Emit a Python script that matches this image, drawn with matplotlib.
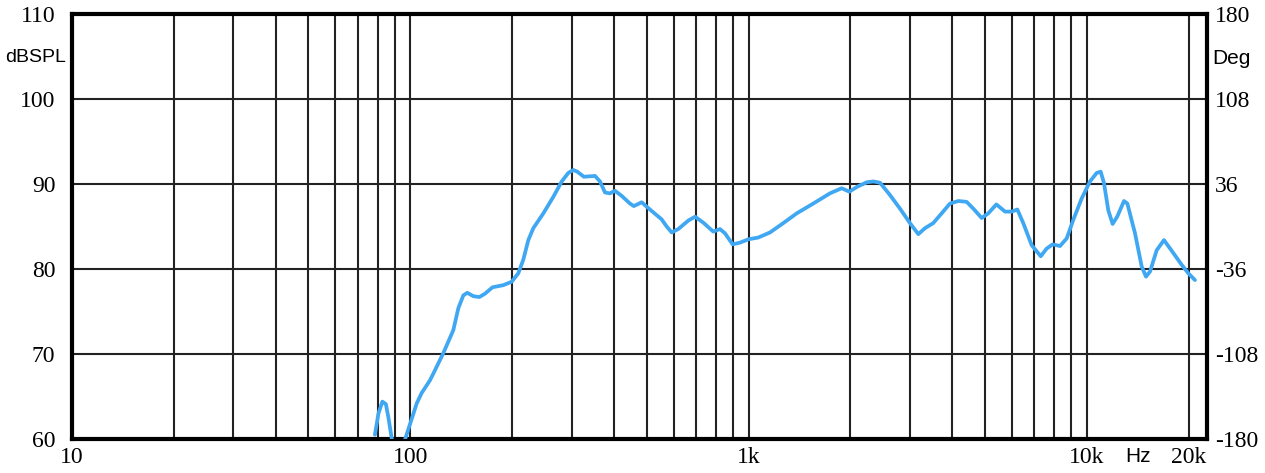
import matplotlib
matplotlib.use("Agg")
import matplotlib.pyplot as plt
from matplotlib.ticker import FixedLocator, NullFormatter, LogLocator

# Frequency response (Hz, dBSPL)
freq = [78.6, 80.5, 82.7, 84.7, 86.1, 88.1, 90.5, 93, 96.4, 100, 104.5, 108,
        114.3, 117, 125.2, 134, 138.7, 143.5, 147.4, 153.6, 160, 166.3, 175,
        188.4, 199.4, 208.6, 215.8, 223.3, 231, 247.4, 264.8, 280.3, 293.1,
        303.3, 311.6, 326, 338, 351.6, 363.7, 376.3, 389.3, 402.8, 421.6, 446,
        458, 483, 511, 553, 572.6, 592.6, 619.7, 663.6, 695, 734.8, 786.3, 823,
        851.5, 897, 943, 1000, 1068, 1157, 1266.5, 1388, 1553, 1740, 1884, 1985,
        2100, 2235, 2340, 2446, 2618, 2803, 2999, 3175, 3322, 3514, 3722, 3938,
        4169, 4412, 4617, 4887, 5113, 5400, 5730, 5996, 6229, 6486, 6868, 7304,
        7604, 7925, 8328, 8717, 9120, 9652, 10214, 10690, 10985, 11235, 11570,
        11914, 12290, 12875, 13170, 13877, 14520, 14952, 15370, 16080, 16900,
        17810, 19060, 19940, 20870]
spl = [60.5, 63.0, 64.4, 64.1, 62.6, 60.1, 57.5, 56.8, 59.9, 61.85, 64.2, 65.4,
       66.9, 67.7, 70.1, 72.8, 75.4, 76.9, 77.2, 76.8, 76.7, 77.1, 77.85,
       78.1, 78.5, 79.5, 81.1, 83.4, 84.8, 86.55, 88.5, 90.3, 91.3, 91.65,
       91.45, 90.85, 90.9, 90.95, 90.3, 89.0, 88.9, 89.2, 88.6, 87.7, 87.4,
       87.85, 87.0, 85.85, 85.0, 84.3, 84.7, 85.7, 86.15, 85.45, 84.4, 84.7,
       84.2, 82.9, 83.1, 83.5, 83.7, 84.3, 85.4, 86.55, 87.7, 88.9, 89.5, 89.1,
       89.7, 90.2, 90.3, 90.15, 88.7, 87.1, 85.4, 84.1, 84.8, 85.4, 86.55,
       87.7, 88.0, 87.9, 87.1, 86.0, 86.55, 87.6, 86.75, 86.75, 87.0, 85.4,
       82.8, 81.5, 82.4, 82.9, 82.7, 83.6, 85.8, 88.3, 90.3, 91.3, 91.45, 90.1,
       86.9, 85.3, 86.15, 88.0, 87.7, 84.2, 80.3, 79.1, 79.7, 82.2, 83.4,
       82.15, 80.5, 79.5, 78.7]

x_ticks = [10, 100, 1000, 10000, 20000]
x_labels = ["10", "100", "1k", "10k", "20k"]
y_ticks = [60, 70, 80, 90, 100, 110]
phase_ticks = [-180, -108, -36, 36, 108, 180]

serif = "Liberation Serif"
sans = "Liberation Sans"

fig = plt.figure(figsize=(12.65, 4.73), dpi=100)
ax = fig.add_axes([72 / 1265, 34 / 473, (1207 - 72) / 1265, (439 - 14) / 473])
ax.set_xscale("log")
ax.set_xlim(10, 22650)
ax.set_ylim(60, 110)

ax.xaxis.set_major_locator(FixedLocator(x_ticks))
ax.set_xticklabels(x_labels, fontfamily=serif, fontsize=17)
ax.xaxis.set_minor_locator(LogLocator(base=10, subs=range(2, 10), numticks=20))
ax.xaxis.set_minor_formatter(NullFormatter())
ax.set_yticks(y_ticks)
ax.set_yticklabels([str(v) for v in y_ticks], fontfamily=serif, fontsize=17)
ax.tick_params(axis="x", which="both", length=0, pad=6)
ax.tick_params(axis="y", which="both", length=0, pad=12)

ax.grid(True, which="major", axis="both", color="#222222", lw=1.5)
ax.grid(True, which="minor", axis="x", color="#222222", lw=1.5)
ax.set_axisbelow(True)
for s in ax.spines.values():
    s.set_linewidth(3)
    s.set_color("black")

ax.plot(freq, spl, color="#40a8f2", lw=2.7, solid_joinstyle="round",
        solid_capstyle="round", zorder=5)

ax2 = ax.twinx()
ax2.set_ylim(-180, 180)
ax2.set_yticks(phase_ticks)
ax2.set_yticklabels([str(v) for v in phase_ticks], fontfamily=serif, fontsize=17)
ax2.tick_params(axis="y", length=0, pad=6)
for s in ax2.spines.values():
    s.set_visible(False)

fig.text(5 / 1265, 1 - 57 / 473, "dBSPL", fontfamily=sans, fontsize=14,
         ha="left", va="center")
fig.text(1212 / 1265, 1 - 58 / 473, "Deg", fontfamily=sans, fontsize=15,
         ha="left", va="center")
fig.text(1138 / 1265, 1 - 456 / 473, "Hz", fontfamily=sans, fontsize=15,
         ha="center", va="center")

fig.savefig("out.png", dpi=100, facecolor="white")
